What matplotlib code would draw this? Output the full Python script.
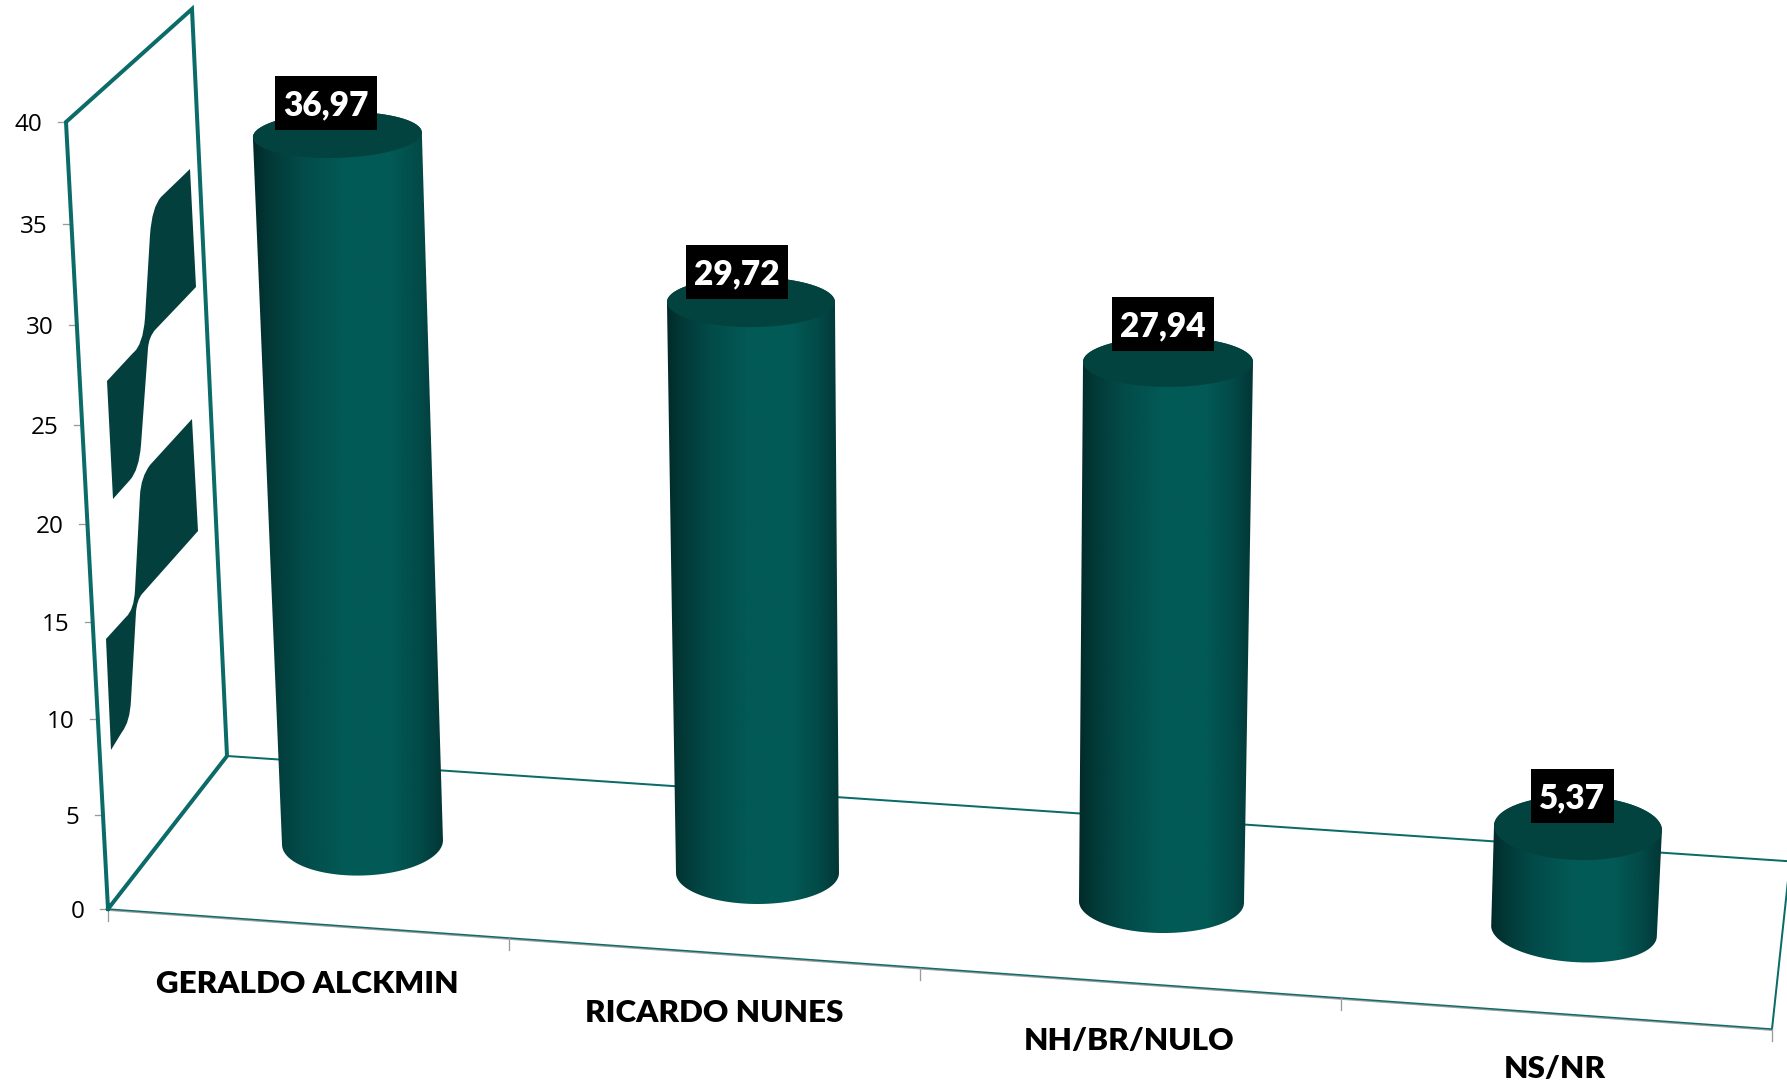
import numpy as np
import matplotlib
matplotlib.use("Agg")
import matplotlib.pyplot as plt
from matplotlib.patches import Polygon, PathPatch
from matplotlib.path import Path
from matplotlib.colors import LinearSegmentedColormap

# ---- data ----
categories = ["GERALDO ALCKMIN", "RICARDO NUNES", "NH/BR/NULO", "NS/NR"]
values = [36.97, 29.72, 27.94, 5.37]
value_labels = ["36,97", "29,72", "27,94", "5,37"]
y_ticks = [0, 5, 10, 15, 20, 25, 30, 35, 40]

# ---- layout of the projected 3D scene (pixels of the 1787x1085 canvas) ----
W, H = 1787, 1085
TICK_PIX_Y = [909, 815, 719, 622, 524, 425, 325, 224, 122]
AXIS_TOP, AXIS_BOT = (66, 122), (108, 909)
WALL_TOP, WALL_BOT = (192, 9), (227, 756)
FLOOR_BACK_R = (1800, 860)
FLOOR_FRONT_R = (1772, 1029)
FLOOR_BACK_EDGE_R = (1790, 862)
CAT_TICK_X = [108, 509, 920, 1341, 1772]

BASE_X = [362.5, 757.5, 1161.5, 1574]
BASE_Y = [842.5, 873, 902, 931]
BASE_A = [80.5, 81.5, 82.5, 83]
BASE_B = [33, 31, 31, 31]
BASE_TILT = [-1.8, 0, 0.6, 4.1]
TOP_A = [84.5, 84, 85, 84]
TOP_B = [23, 25, 25, 32]
TOP_TILT = [-1.7, 0, 0, 1.7]
PX_PER_UNIT = [19.14, 19.21, 19.33, 19.18]
DX_PER_UNIT = [-0.68, -0.22, 0.233, 0.74]
LABEL_OFF = [(-11.5, -32), (-14, -30), (-5, -38), (-5.5, -32)]
CAT_POS = [(307, 984), (714, 1013), (1129, 1041), (1555, 1069)]

TEAL = "#0b6b68"
DARK = "#033f3c"
TOP_COL = "#03433f"

plt.rcParams["font.family"] = ["Lato", "Open Sans", "DejaVu Sans"]

fig = plt.figure(figsize=(W / 100, H / 100), dpi=100, facecolor="white")
ax = fig.add_axes([0, 0, 1, 1])
ax.set_xlim(0, W)
ax.set_ylim(H, 0)
ax.axis("off")

PX = 0.72  # points per pixel


def axis_point(v):
    y = np.interp(v, y_ticks, TICK_PIX_Y)
    t = (y - AXIS_TOP[1]) / (AXIS_BOT[1] - AXIS_TOP[1])
    return AXIS_TOP[0] + t * (AXIS_BOT[0] - AXIS_TOP[0]), y


def ellipse(cx, cy, a, b, tilt, t):
    th = np.deg2rad(tilt)
    return (cx + a * np.cos(t) * np.cos(th) - b * np.sin(t) * np.sin(th),
            cy + a * np.cos(t) * np.sin(th) + b * np.sin(t) * np.cos(th))


# side wall
ax.plot([AXIS_BOT[0], AXIS_TOP[0], WALL_TOP[0], WALL_BOT[0], AXIS_BOT[0]],
        [AXIS_BOT[1], AXIS_TOP[1], WALL_TOP[1], WALL_BOT[1], AXIS_BOT[1]],
        color=TEAL, lw=4 * PX, solid_joinstyle="miter", zorder=3)

# the two dark ribbons on the wall (rounded corners through quadratic segments)
L, Q = Path.LINETO, Path.CURVE3
ribbon_1 = [((190, 169), Path.MOVETO), ((196, 287), L), ((155, 330), L),
            ((149, 337), Q), ((148, 348), Q), ((141, 445), L),
            ((139, 470), Q), ((130, 480), Q), ((113, 499), L), ((107, 381), L),
            ((133, 353), L), ((143, 345), Q), ((145, 318), Q), ((150, 235), L),
            ((152, 207), Q), ((161, 197), Q), ((190, 169), L)]
ribbon_2 = [((192, 419), Path.MOVETO), ((198, 531), L), ((142, 594), L),
            ((137, 600), Q), ((136, 612), Q), ((131, 700), L),
            ((130, 722), Q), ((122, 732), Q), ((111, 750), L), ((106, 639), L),
            ((126, 617), L), ((134, 610), Q), ((135, 590), Q), ((140, 495), L),
            ((141, 477), Q), ((150, 465), Q), ((192, 419), L)]
for r in (ribbon_1, ribbon_2):
    ax.add_patch(PathPatch(Path([p for p, _ in r], [c for _, c in r]),
                           fc=DARK, ec="none", zorder=3))

# floor
ax.plot([WALL_BOT[0], FLOOR_BACK_R[0]], [WALL_BOT[1], FLOOR_BACK_R[1] + 2],
        color=TEAL, lw=2 * PX, zorder=2)
ax.plot([AXIS_BOT[0], FLOOR_FRONT_R[0]], [AXIS_BOT[1] + 1, FLOOR_FRONT_R[1] + 1],
        color="#9a9a9a", lw=1.8 * PX, zorder=2)
ax.plot([AXIS_BOT[0], FLOOR_FRONT_R[0]], [AXIS_BOT[1], FLOOR_FRONT_R[1]],
        color=TEAL, lw=1.4 * PX, zorder=2)
ax.plot([FLOOR_FRONT_R[0], FLOOR_BACK_EDGE_R[0]], [FLOOR_FRONT_R[1], FLOOR_BACK_EDGE_R[1]],
        color=TEAL, lw=2 * PX, zorder=2)

# category ticks
front_slope = (FLOOR_FRONT_R[1] - AXIS_BOT[1]) / (FLOOR_FRONT_R[0] - AXIS_BOT[0])
for x in CAT_TICK_X:
    y0 = AXIS_BOT[1] + (x - AXIS_BOT[0]) * front_slope
    ax.plot([x, x], [y0, y0 + 12], color="#9a9a9a", lw=1.3 * PX, zorder=2)

# value ticks and labels
for v in y_ticks:
    x, y = axis_point(v)
    ax.plot([x - 8, x], [y, y], color="#9a9a9a", lw=1.3 * PX, zorder=2)
    ax.text(x - 23.5, y + 3, str(v), ha="right", va="center", fontsize=17.5,
            family=["Open Sans", "DejaVu Sans"], color="#000000", zorder=5)

# cylinders
cmap = LinearSegmentedColormap.from_list("cyl", [
    (0.00, "#012a2a"), (0.08, "#023836"), (0.25, "#024b49"), (0.48, "#025a56"),
    (0.72, "#025a56"), (0.88, "#024a48"), (1.00, "#023635")])
grad = np.linspace(0, 1, 256).reshape(1, -1)

for i, v in enumerate(values):
    bx, by = BASE_X[i], BASE_Y[i]
    tx = bx + v * DX_PER_UNIT[i]
    ty = by - v * PX_PER_UNIT[i]
    low_x, low_y = ellipse(bx, by, BASE_A[i], BASE_B[i], BASE_TILT[i], np.linspace(0, np.pi, 80))
    up_x, up_y = ellipse(tx, ty, TOP_A[i], TOP_B[i], TOP_TILT[i], np.linspace(np.pi, 2 * np.pi, 80))
    body = Polygon(np.column_stack([np.r_[low_x, up_x], np.r_[low_y, up_y]]), closed=True,
                   fc="none", ec="none", transform=ax.transData)
    ax.add_patch(body)
    xmin, xmax = min(low_x.min(), up_x.min()), max(low_x.max(), up_x.max())
    im = ax.imshow(grad, cmap=cmap, extent=(xmin, xmax, by + 40, ty - 40), aspect="auto",
                   interpolation="bilinear", zorder=4)
    im.set_clip_path(body)
    cx, cy = ellipse(tx, ty, TOP_A[i], TOP_B[i], TOP_TILT[i], np.linspace(0, 2 * np.pi, 160))
    ax.add_patch(Polygon(np.column_stack([cx, cy]), closed=True, fc=TOP_COL, ec="none", zorder=4.5))

    # value label in a black box
    lx, ly = tx + LABEL_OFF[i][0], ty + LABEL_OFF[i][1]
    box_w = 102 if len(value_labels[i]) == 5 else 83
    ax.add_patch(Polygon([(lx - box_w / 2, ly - 27), (lx + box_w / 2, ly - 27),
                          (lx + box_w / 2, ly + 27), (lx - box_w / 2, ly + 27)],
                         closed=True, fc="black", ec="none", zorder=6))
    ax.text(lx, ly - 0.5, value_labels[i], ha="center", va="center_baseline", color="white",
            fontsize=24, fontweight=800, zorder=7)

# category labels
for name, (x, y) in zip(categories, CAT_POS):
    ax.text(x, y, name, ha="center", va="center", fontsize=22.6, fontweight=800,
            color="black", zorder=5)

ax.set_xlim(0, W)
ax.set_ylim(H, 0)
fig.savefig("out.png", dpi=100)
